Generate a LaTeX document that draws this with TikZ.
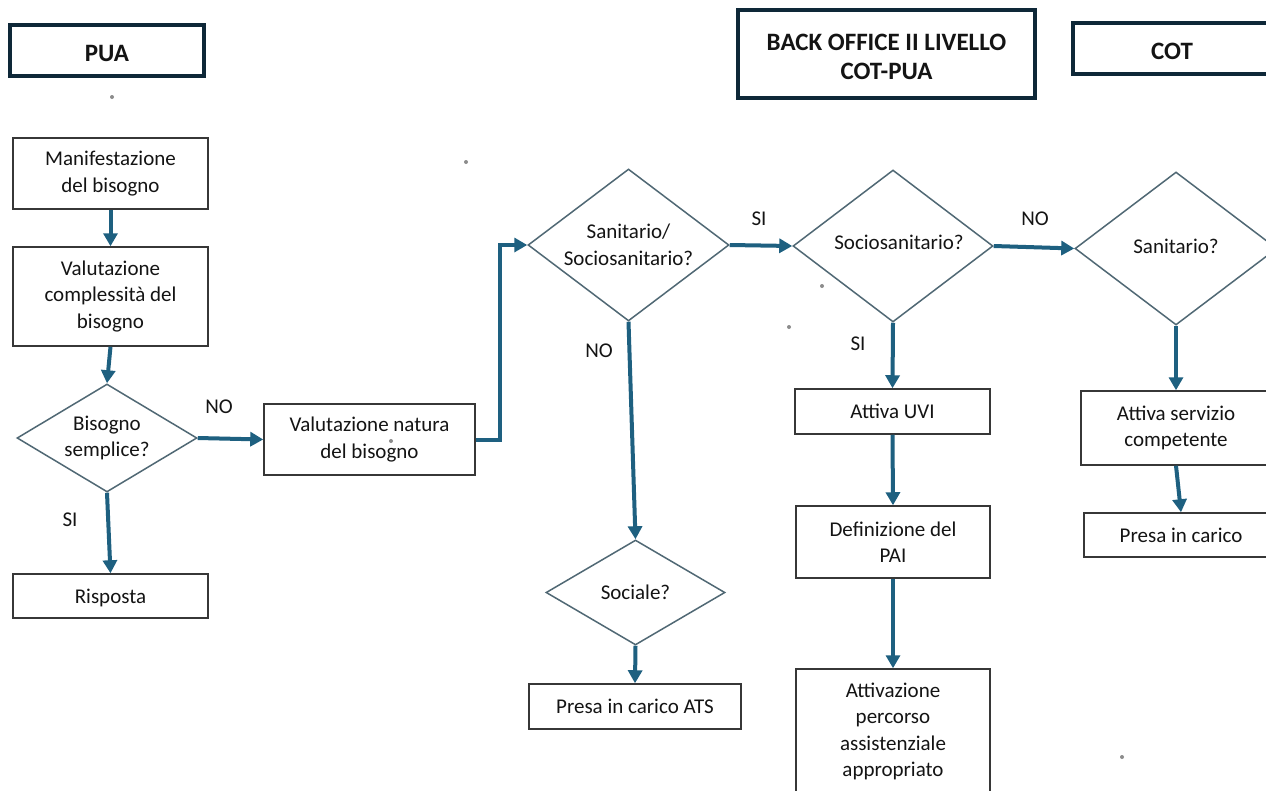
\documentclass[tikz,border=0pt]{standalone}
\usepackage{fontspec}
\setmainfont{Carlito}
\usetikzlibrary{shapes.geometric,arrows.meta}
\definecolor{arrowblue}{RGB}{30,96,128}
\definecolor{headnavy}{RGB}{14,40,56}
\definecolor{diagray}{RGB}{80,104,116}
\definecolor{boxgray}{RGB}{55,55,55}
\definecolor{txt}{RGB}{20,20,20}
\definecolor{dotgray}{RGB}{140,140,140}
\newcommand{\shiftdn}[2]{\raisebox{-#1}[\height][\depth]{#2}}
\begin{document}
\begin{tikzpicture}[x=1pt,y=-1pt,
  every node/.style={text=txt,font=\fontsize{21}{26.5}\selectfont},
  box/.style={draw=boxgray,line width=1.5pt,fill=white,align=center,inner sep=0pt},
  dia/.style={diamond,draw=diagray,line width=1.5pt,fill=white,align=center,inner sep=0pt,aspect=1.4},
  head/.style={draw=headnavy,line width=4.5pt,fill=white,align=center,inner sep=0pt,
    font=\fontsize{25}{29}\selectfont\bfseries},
  flow/.style={draw=arrowblue,line width=4pt,-{Triangle[length=13pt,width=14pt]}},
  lbl/.style={inner sep=0pt},
  speck/.style={fill=dotgray,draw=none}
]
\useasboundingbox (0,0) rectangle (1266,790);
\fill[white] (0,0) rectangle (1266,790);

% headers
\node[head,minimum width=194pt,minimum height=51pt] (hpua) at (107,50.5) {\shiftdn{3pt}{PUA}};
\node[head,minimum width=297pt,minimum height=88pt] (hbo) at (886.5,54) {\shiftdn{3pt}{BACK OFFICE II LIVELLO}\\\shiftdn{3pt}{COT-PUA}};
\node[head,minimum width=198pt,minimum height=51pt] (hcot) at (1172,48.5) {\shiftdn{3pt}{COT}};

% boxes
\node[box,minimum width=195pt,minimum height=71pt] (b1) at (110.5,173.5) {Manifestazione\\del bisogno};
\node[box,minimum width=195pt,minimum height=99pt] (b2) at (110.5,296.5) {Valutazione\\complessità del\\bisogno};
\node[box,minimum width=195pt,minimum height=44pt] (b3) at (110.5,596) {\shiftdn{2pt}{Risposta}};
\node[box,minimum width=211pt,minimum height=71pt] (b4) at (369.5,439.5) {Valutazione natura\\del bisogno};
\node[box,minimum width=212pt,minimum height=45pt] (b5) at (635,706.5) {Presa in carico ATS};
\node[box,minimum width=195pt,minimum height=45pt] (b6) at (892.5,411.5) {Attiva UVI};
\node[box,minimum width=194pt,minimum height=72pt] (b7) at (893,542) {Definizione del\\PAI};
\node[box,minimum width=194pt,minimum height=125pt] (b8) at (893,731.5) {Attivazione\\percorso\\assistenziale\\appropriato};
\node[box,minimum width=190pt,minimum height=74pt] (b9) at (1176,428) {Attiva servizio\\competente};
\node[box,minimum width=194pt,minimum height=44pt] (b10) at (1181,535) {Presa in carico};

% diamonds
\node[dia,minimum width=180pt,minimum height=108pt] (d1) at (107,438) {Bisogno\\semplice?};
\node[dia,minimum width=201pt,minimum height=152pt] (d2) at (628.5,245) {Sanitario/\\Sociosanitario?};
\node[dia,minimum width=179pt,minimum height=105pt] (d3) at (635.5,592.5) {Sociale?};
\node[dia,minimum width=200pt,minimum height=152pt] (d4) at (893,246) {\shiftdn{-4pt}{\hspace{12pt}Sociosanitario?}};
\node[dia,minimum width=202pt,minimum height=153pt] (d5) at (1176,248.5) {\shiftdn{-2pt}{Sanitario?}};

% labels
\node[lbl] (lno1) at (219,407) {NO};
\node[lbl] (lsi1) at (70,520) {SI};
\node[lbl] (lsi2) at (759,219) {SI};
\node[lbl] (lno2) at (599,351) {NO};
\node[lbl] (lno3) at (1035,219) {NO};
\node[lbl] (lsi3) at (858,344) {SI};

% connectors
\coordinate (c1) at (500,245);
\draw[flow] (b1.south) -- (b2.north);
\draw[flow] (b2.south) -- (d1.north);
\draw[flow] (d1.east) -- (b4.west);
\draw[flow] (d1.south) -- (b3.north);
\draw[flow] (b4.east) -| (c1) -- (d2.west);
\draw[flow] (d2.east) -- (d4.west);
\draw[flow] (d2.south) -- (d3.north);
\draw[flow] (d3.south) -- (b5.north);
\draw[flow] (d4.east) -- (d5.west);
\draw[flow] (d4.south) -- (b6.north);
\draw[flow] (b6.south) -- (b7.north);
\draw[flow] (b7.south) -- (b8.north);
\draw[flow] (d5.south) -- (b9.north);
\draw[flow] (b9.south) -- (b10.north);

% specks
\fill[speck] (112,97) circle (2pt);
\fill[speck] (466,162) circle (2pt);
\fill[speck] (822,286) circle (2pt);
\fill[speck] (789,327) circle (2pt);
\fill[speck] (391,441) circle (2pt);
\fill[speck] (1122,757) circle (2pt);
\end{tikzpicture}
\end{document}
